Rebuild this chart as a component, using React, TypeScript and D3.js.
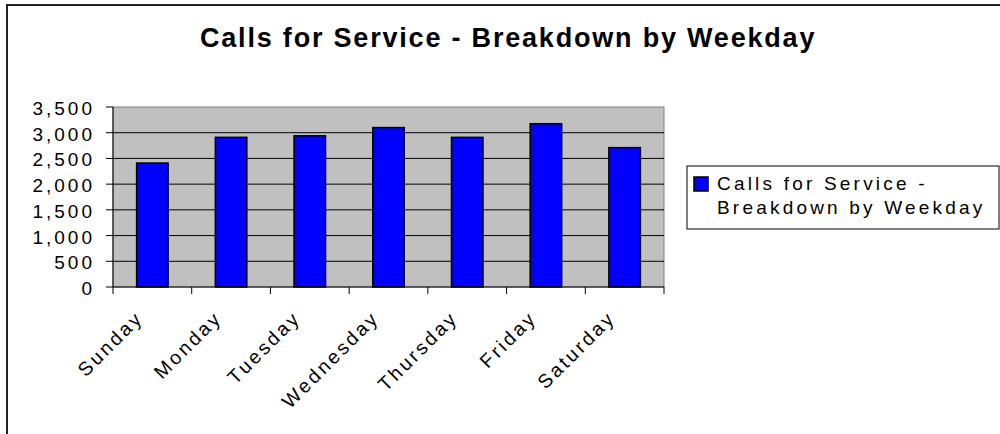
import React from "react";
import * as d3 from "d3";

const categories = ["Sunday", "Monday", "Tuesday", "Wednesday", "Thursday", "Friday", "Saturday"];
const values = [2410, 2910, 2940, 3100, 2910, 3175, 2710];
const yTicks = [0, 500, 1000, 1500, 2000, 2500, 3000, 3500];
const title = "Calls for Service - Breakdown by Weekday";
const legendLines = ["Calls for Service -", "Breakdown by Weekday"];

const FONT = "Arial, 'Liberation Sans', sans-serif";

export default function App() {
  const W = 1000, H = 434;
  const left = 113, right = 664, top = 107, bottom = 287;
  const x = d3.scaleBand<string>().domain(categories).range([left, right]).paddingInner(0.6).paddingOuter(0.3);
  const xOuter = d3.scaleBand<string>().domain(categories).range([left, right]);
  const y = d3.scaleLinear().domain([0, 3500]).range([bottom, top]);
  const fmt = d3.format(",");
  const bounds = d3.range(categories.length + 1).map((i) => left + (i * (right - left)) / categories.length);

  return (
    <svg width={W} height={H} style={{ position: "absolute", left: 0, top: 0, background: "#fff" }}>
      {/* outer chart border */}
      <path d={`M7,${H + 2} L7,5 L${W + 2},5`} fill="none" stroke="#222" strokeWidth={2} />
      {/* title */}
      <text x={200} y={47} fontFamily={FONT} fontWeight="bold" fontSize={27} letterSpacing={1.8} fill="#000">
        {title}
      </text>
      {/* plot area */}
      <rect x={left} y={top} width={right - left} height={bottom - top} fill="#c0c0c0" stroke="#808080" strokeWidth={1} />
      {yTicks.filter((t) => t > 0 && t < 3500).map((t) => (
        <line key={t} x1={left} x2={right} y1={y(t)} y2={y(t)} stroke="#000" strokeWidth={1} />
      ))}
      {/* bars */}
      {categories.map((c, i) => (
        <rect key={c} x={x(c)} y={y(values[i])} width={x.bandwidth()} height={bottom - y(values[i])}
          fill="#0000ff" stroke="#000" strokeWidth={1.5} />
      ))}
      {/* axes */}
      <line x1={left} x2={left} y1={top} y2={bottom} stroke="#000" strokeWidth={1} />
      <line x1={left} x2={right} y1={bottom} y2={bottom} stroke="#000" strokeWidth={1} />
      {yTicks.map((t) => (
        <g key={t}>
          <line x1={left - 7} x2={left} y1={y(t)} y2={y(t)} stroke="#000" strokeWidth={1} />
          <text x={95} y={y(t) + 8} textAnchor="end" fontFamily={FONT} fontSize={19} letterSpacing={3} fill="#000">
            {fmt(t)}
          </text>
        </g>
      ))}
      {bounds.map((b, i) => (
        <line key={i} x1={b} x2={b} y1={bottom} y2={bottom + 7} stroke="#000" strokeWidth={1} />
      ))}
      {categories.map((c) => {
        const cx = (xOuter(c) as number) + xOuter.bandwidth() / 2;
        const ax = cx - 8, ay = 319;
        return (
          <text key={c} x={ax} y={ay} transform={`rotate(-45 ${ax} ${ay})`} textAnchor="end"
            fontFamily={FONT} fontSize={19.5} letterSpacing={2.8} fill="#000">
            {c}
          </text>
        );
      })}
      {/* legend */}
      <rect x={687} y={166} width={312} height={63} fill="#fff" stroke="#000" strokeWidth={1} />
      <rect x={694} y={177} width={14} height={14} fill="#0000ff" stroke="#000" strokeWidth={1.5} />
      {legendLines.map((l, i) => (
        <text key={i} x={717} y={190 + i * 24} fontFamily={FONT} fontSize={19} letterSpacing={3.2} fill="#000">
          {l}
        </text>
      ))}
    </svg>
  );
}
